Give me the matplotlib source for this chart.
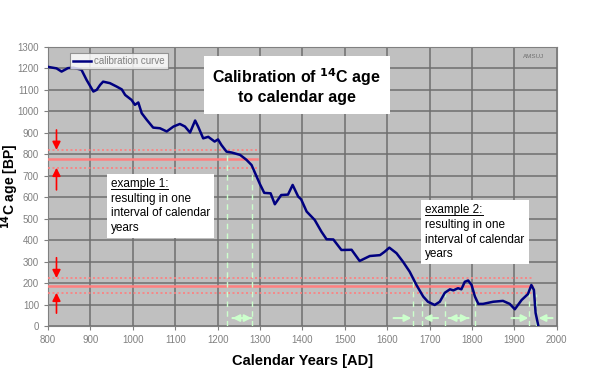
import matplotlib
matplotlib.use("Agg")
from matplotlib import pyplot as plt

# calibration curve
jahre = [800, 805, 820, 832, 847, 860, 879, 891, 907, 915, 923, 930, 946, 962, 974,
         982, 997, 1005, 1013, 1021, 1033, 1048, 1064, 1080, 1096, 1111, 1123, 1135,
         1147, 1154, 1166, 1178, 1193, 1201, 1209, 1221, 1233, 1253, 1268, 1280, 1290,
         1300, 1310, 1325, 1335, 1350, 1366, 1377, 1390, 1397, 1410, 1429, 1445, 1457,
         1473, 1492, 1516, 1535, 1559, 1583, 1594, 1605, 1622, 1637, 1653, 1669, 1685,
         1696, 1712, 1724, 1736, 1748, 1756, 1767, 1775, 1783, 1791, 1799, 1807, 1815,
         1826, 1850, 1873, 1889, 1901, 1917, 1932, 1940, 1946, 1950, 1956]
c14 = [1207, 1205, 1200, 1185, 1201, 1203, 1193, 1146, 1092, 1100, 1123, 1138, 1131,
       1115, 1102, 1076, 1053, 1030, 1041, 991, 960, 924, 921, 906, 929, 941, 929, 901,
       957, 929, 874, 881, 859, 869, 843, 812, 808, 797, 774, 750, 705, 660, 620, 618,
       567, 610, 612, 657, 603, 590, 533, 494, 439, 404, 403, 354, 355, 303, 326, 330,
       346, 365, 339, 300, 253, 191, 137, 113, 98, 113, 155, 171, 166, 176, 171, 206,
       212, 191, 137, 103, 103, 113, 117, 103, 78, 121, 149, 191, 168, 61, 5]

# example 1 / example 2 (measured 14C age +- error)
ex1_mitte, ex1_unten, ex1_oben, ex1_ende = 777, 737, 820, 1292
ex2_mitte, ex2_unten, ex2_oben, ex2_ende = 187, 155, 223, 1942

ex1_striche = [(1222, 812), (1282, 745)]
ex2_striche = [(1660, 223), (1683, 155), (1737, 155), (1808, 155), (1935, 155), (1952, 150)]
# green arrows (start, end)
pfeile = [(1235, 1280), (1280, 1235), (1615, 1657), (1720, 1686), (1745, 1792),
          (1792, 1745), (1893, 1933), (1990, 1957)]

plt.rcParams['font.family'] = ['Liberation Sans', 'DejaVu Sans']

fig = plt.figure(figsize=(6, 3.69), dpi=100)
ax = fig.add_axes([0.08, 0.1165, 0.848, 0.7565])
ax.set_facecolor('#C0C0C0')

ax.set_xlim(800, 2000)
ax.set_ylim(0, 1300)
ax.set_xticks(range(800, 2001, 100))
ax.set_yticks(range(0, 1301, 100))
ax.grid(True, color='#6E6E6E', linewidth=1.1)
ax.set_axisbelow(True)
ax.tick_params(labelsize=7, colors='#808080', length=3, width=0.8)
for s in ax.spines.values():
    s.set_color('#808080')

rot = '#FF7F7F'
ax.plot([800, ex1_ende], [ex1_mitte, ex1_mitte], color=rot, lw=1.8, zorder=3)
ax.plot([800, ex1_ende], [ex1_oben, ex1_oben], color=rot, lw=1.2, ls=(0, (1.2, 1.5)), zorder=3)
ax.plot([800, ex1_ende], [ex1_unten, ex1_unten], color=rot, lw=1.2, ls=(0, (1.2, 1.5)), zorder=3)
ax.plot([800, ex2_ende], [ex2_mitte, ex2_mitte], color=rot, lw=1.8, zorder=3)
ax.plot([800, ex2_ende], [ex2_oben, ex2_oben], color=rot, lw=1.2, ls=(0, (1.2, 1.5)), zorder=3)
ax.plot([800, ex2_ende], [ex2_unten, ex2_unten], color=rot, lw=1.2, ls=(0, (1.2, 1.5)), zorder=3)

gruen = '#CCFFCC'
for x, y in ex1_striche + ex2_striche:
    ax.plot([x, x], [0, y], color=gruen, lw=1, ls=(0, (4, 3)), zorder=3)
for a, b in pfeile:
    ax.annotate('', xy=(b, 37), xytext=(a, 37),
                arrowprops=dict(arrowstyle='-|>', color=gruen, lw=1.5,
                                mutation_scale=10, shrinkA=0, shrinkB=0), zorder=4)

# red arrows
for a, b in [(913, ex1_oben), (634, ex1_unten), (318, ex2_oben), (60, ex2_unten)]:
    ax.annotate('', xy=(820, b), xytext=(820, a),
                arrowprops=dict(arrowstyle='-|>', color='red', lw=1.2,
                                mutation_scale=12, shrinkA=0, shrinkB=0), zorder=4)

ax.plot(jahre, c14, color='#000080', lw=1.8, zorder=5, label='calibration curve')

leg = ax.legend(loc='upper left', bbox_to_anchor=(0.037, 0.99), fontsize=7,
                frameon=True, fancybox=False, handlelength=1.8, borderpad=0.35,
                borderaxespad=0.3, handletextpad=0.3)
leg.get_frame().set_edgecolor('#808080')
leg.get_frame().set_linewidth(0.8)
for t in leg.get_texts():
    t.set_color('#808080')

ax.text(0.975, 0.975, 'AMSUJ', transform=ax.transAxes, fontsize=4.5, color='#707070',
        ha='right', va='top')

ax.text(1387, 1118, 'Calibration of $\\mathbf{^{14}}$C age\nto calendar age',
        fontsize=11.5, fontweight='bold', ha='center', va='center', linespacing=1.2,
        zorder=6, bbox=dict(facecolor='white', edgecolor='none', pad=6))

box = dict(facecolor='white', edgecolor='none', pad=3)
rest = '\nresulting in one\ninterval of calendar\nyears'
beispiele = [(948, 690, 'example 1:'), (1690, 567, 'example 2:')]
fig.canvas.draw()
r = fig.canvas.get_renderer()
for x, y, kopf in beispiele:
    ax.text(x, y, kopf + rest, fontsize=8.5, ha='left', va='top', linespacing=1.3,
            zorder=6, bbox=box)
    # measure the first line for the underline, then drop the helper
    k = ax.text(x, y, kopf, fontsize=8.5, ha='left', va='top')
    bb = k.get_window_extent(renderer=r)
    k.remove()
    p0 = ax.transData.inverted().transform((bb.x0, bb.y0 + 1))
    p1 = ax.transData.inverted().transform((bb.x1, bb.y0 + 1))
    ax.plot([p0[0], p1[0]], [p0[1], p1[1]], color='black', lw=0.7, zorder=7)

ax.set_xlabel('Calendar Years [AD]', fontsize=10.5, fontweight='bold')
ax.set_ylabel('$\\mathbf{^{14}}$C age [BP]', fontsize=10, fontweight='bold')
ax.xaxis.set_label_coords(0.5, -0.10)
ax.yaxis.set_label_coords(-0.054, 0.5)

fig.savefig('out.png', dpi=100)
